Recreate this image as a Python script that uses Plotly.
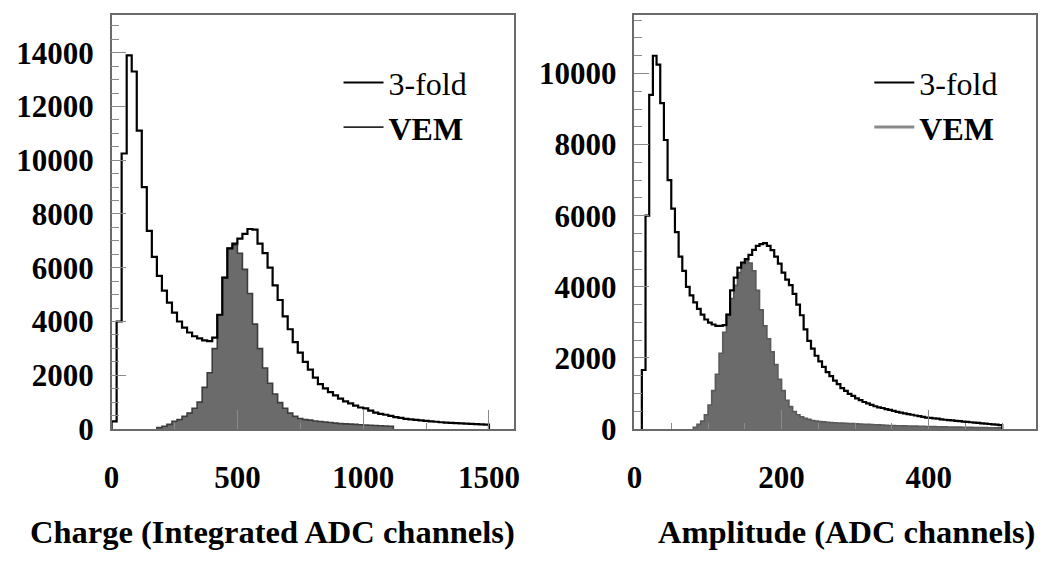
import plotly.graph_objects as go

# ---------------- data ----------------
# Left panel: Charge (integrated ADC channels), 20-channel bins
charge_bin_width = 20
charge_3fold_start = 0
charge_3fold = [280, 4000, 10250, 13900, 13300, 11100, 9000, 7370, 6400, 5700,
                5150, 4700, 4330, 4000, 3770, 3590, 3450, 3370, 3300, 3270,
                3400, 4250, 5630, 6720, 6900, 7080, 7260, 7440, 7420, 6900,
                6540, 6000, 5340, 4800, 4190, 3710, 3230, 2840, 2500, 2210,
                1910, 1670, 1510, 1370, 1250, 1130, 1030, 950, 870, 800,
                770, 680, 610, 560, 530, 490, 440, 410, 380, 360,
                340, 320, 300, 280, 270, 250, 240, 230, 220, 210,
                200, 190, 180, 170, 160]
charge_vem_start = 180
charge_vem = [50, 100, 170, 290, 350, 470, 590, 770, 1000, 1550,
              2090, 2990, 4250, 5630, 6720, 6840, 6540, 5940, 5040, 3900,
              2990, 2270, 1700, 1300, 980, 770, 590, 470, 390, 350,
              330, 300, 280, 260, 240, 220, 200, 190, 180, 170,
              160, 150, 140, 130, 120, 110, 100]

# Right panel: Amplitude (ADC channels), 5-channel bins
amp_bin_width = 5
amp_3fold_start = 10
amp_3fold = [1660, 6000, 9400, 10500, 10250, 9170, 8130, 7000,
             6200, 5540, 4850, 4450, 4000, 3760, 3560, 3380, 3220, 3080,
             2990, 2940, 2900, 2900, 2920, 3220, 3900, 4260, 4540, 4680,
             4780, 4900, 5040, 5150, 5200, 5230, 5150, 5030, 4850, 4650,
             4400, 4200, 4050, 3800, 3500, 3200, 2800, 2480, 2260, 2060,
             1900, 1750, 1600, 1490, 1360, 1260, 1150, 1070, 990, 930,
             860, 810, 760, 720, 680, 640, 610, 590, 560, 540,
             510, 480, 460, 440, 420, 400, 380, 360, 340, 320,
             310, 300, 290, 270, 260, 250, 240, 230, 220, 210,
             200, 190, 180, 170, 160, 150, 140, 130, 120, 110]
amp_vem_start = 80
amp_vem = [50, 130, 220, 400, 670, 1080, 1540, 2130, 2720, 3220,
           3670, 4040, 4400, 4630, 4760, 4670, 4450, 3900, 3350, 2900,
           2540, 2170, 1810, 1400, 1080, 810, 630, 490, 400, 340,
           300, 270, 240, 220, 210, 200, 190, 180, 175, 170,
           165, 160, 155, 150, 145, 140, 135, 130, 125, 120,
           115, 110, 105, 100, 95, 92, 90, 88, 85, 82,
           80, 78, 75, 72, 70, 68, 65, 62, 60, 58,
           56, 54, 52, 50, 48, 46, 44, 42, 40, 38,
           36, 34, 32, 30]

legend_names = ["3-fold", "VEM"]
x_titles = ["Charge (Integrated ADC channels)", "Amplitude (ADC channels)"]

# ---------------- helpers ----------------
FONT = "Liberation Serif"


def step_xy(start, width, counts):
    """Histogram outline points for an 'hv' step line."""
    xs = [start]
    ys = [0]
    for i, c in enumerate(counts):
        xs.append(start + i * width)
        ys.append(c)
    xs.append(start + len(counts) * width)
    ys.append(0)
    return xs, ys


fig = go.Figure()

panels = [
    dict(xa="x", ya="y", leg="legend",
         h3=(charge_3fold_start, charge_bin_width, charge_3fold),
         hv=(charge_vem_start, charge_bin_width, charge_vem),
         vem_line="#3c3c3c", vem_leg_color="#2a2a2a", vem_leg_width=1.6),
    dict(xa="x2", ya="y2", leg="legend2",
         h3=(amp_3fold_start, amp_bin_width, amp_3fold),
         hv=(amp_vem_start, amp_bin_width, amp_vem),
         vem_line="#5a5a5a", vem_leg_color="#8a8a8a", vem_leg_width=3),
]

for p in panels:
    vx, vy = step_xy(*p["hv"])
    fig.add_trace(go.Scatter(
        x=vx, y=vy, mode="lines", line=dict(shape="hv", color=p["vem_line"], width=1.6),
        fill="tozeroy", fillcolor="#6b6b6b", xaxis=p["xa"], yaxis=p["ya"],
        showlegend=False, hoverinfo="skip"))
    tx, ty = step_xy(*p["h3"])
    fig.add_trace(go.Scatter(
        x=tx, y=ty, mode="lines", line=dict(shape="hv", color="black", width=2.2),
        xaxis=p["xa"], yaxis=p["ya"], name=legend_names[0], legend=p["leg"],
        showlegend=True, hoverinfo="skip"))
    fig.add_trace(go.Scatter(
        x=[None], y=[None], mode="lines",
        line=dict(color=p["vem_leg_color"], width=p["vem_leg_width"]),
        xaxis=p["xa"], yaxis=p["ya"], name="<b>" + legend_names[1] + "</b>",
        legend=p["leg"], showlegend=True))

W, H = 1045, 569
y_dom = [1 - 443 / H, 1 - 15 / H]

tickfont = dict(family=FONT, size=31, color="black", weight="bold")
frame = dict(showline=True, linecolor="#6a6a6a", linewidth=1.5, mirror=True,
             showgrid=False, zeroline=False, ticks="inside", tickcolor="#8a8a8a",
             tickwidth=1, tickfont=tickfont, tickformat="d")

fig.update_layout(
    width=W, height=H, autosize=False, margin=dict(l=0, r=0, t=0, b=0, pad=0),
    paper_bgcolor="white", plot_bgcolor="white",
    xaxis=dict(domain=[105 / W, 513 / W], range=[0, 1600], anchor="y",
               tick0=0, dtick=500, ticklen=19, ticklabelstandoff=20,
               minor=dict(dtick=250, ticklen=6, ticks="inside", tickcolor="#8a8a8a"),
               **frame),
    yaxis=dict(domain=y_dom, range=[0, 15420], anchor="x",
               tick0=0, dtick=2000, ticklen=15, ticklabelstandoff=10,
               minor=dict(dtick=500, ticklen=8, ticks="inside", tickcolor="#8a8a8a"),
               **frame),
    xaxis2=dict(domain=[635 / W, 1042 / W], range=[0, 546], anchor="y2",
                tick0=0, dtick=200, ticklen=19, ticklabelstandoff=20,
                minor=dict(dtick=50, ticklen=6, ticks="inside", tickcolor="#8a8a8a"),
                **frame),
    yaxis2=dict(domain=y_dom, range=[0, 11660], anchor="x2",
                tick0=0, dtick=2000, ticklen=15, ticklabelstandoff=10,
                minor=dict(dtick=500, ticklen=8, ticks="inside", tickcolor="#8a8a8a"),
                **frame),
    legend=dict(x=335 / W, y=1 - 57 / H, xanchor="left", yanchor="top",
                bgcolor="rgba(0,0,0,0)", borderwidth=0, itemwidth=40,
                font=dict(family=FONT, size=32, color="black")),
    legend2=dict(x=873 / W, y=1 - 57 / H, xanchor="left", yanchor="top",
                 bgcolor="rgba(0,0,0,0)", borderwidth=0, itemwidth=40,
                 font=dict(family=FONT, size=32, color="black")),
    annotations=[
        dict(text=x_titles[0], x=268 / W, y=1 - 549 / H, xref="paper", yref="paper",
             xanchor="center", yanchor="middle", showarrow=False,
             font=dict(family=FONT, size=32.5, color="black", weight="bold")),
        dict(text=x_titles[1], x=850 / W, y=1 - 549 / H, xref="paper", yref="paper",
             xanchor="center", yanchor="middle", showarrow=False,
             font=dict(family=FONT, size=32.5, color="black", weight="bold")),
    ],
)

page_fix = (
    "document.documentElement.style.margin='0';"
    "document.documentElement.style.padding='0';"
    "document.documentElement.style.overflow='hidden';"
    "document.body.style.margin='0';"
    "document.body.style.padding='0';"
    "document.body.style.overflow='hidden';"
)

fig.write_html("out.html", config={"displayModeBar": False, "responsive": False},
               post_script=page_fix)
